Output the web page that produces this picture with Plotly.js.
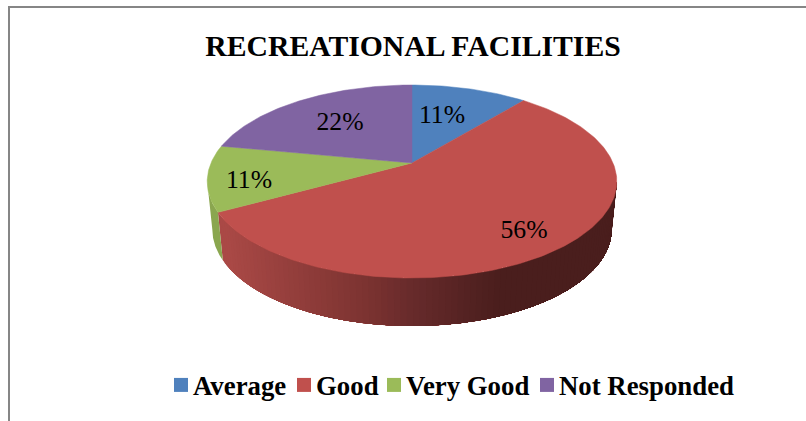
<!DOCTYPE html>
<html><head><meta charset="utf-8">
<script src="https://cdn.plot.ly/plotly-3.0.1.min.js"></script>
<style>html,body{margin:0;padding:0;background:#fff;overflow:hidden}</style>
</head><body><div id="chart" style="width:806px;height:421px"></div>
<script>
const categories = ["Average", "Good", "Very Good", "Not Responded"];
const values = [11, 56, 11, 22];
const sliceColors = ["#4f81bd", "#c0504d", "#9bbb59", "#8064a2"];
const labelX = [442, 524, 249, 340];
const labelY = [116.5, 231.5, 181.5, 123.5];
const legendTextX = [193, 316, 406, 559];

const cx = 412, cy = 163, a = 201, b = 92.95, k = 0.1917, depth = 48, shrink = 0.975;
const total = values.reduce((s, v) => s + v, 0);
const rim = deg => {
  const t = deg * Math.PI / 180, u = Math.sin(t), v = Math.cos(t), d = 1 + k * v;
  return [cx + a * u / d, cy - b * v / d];
};
const mix = (p, q, f) => '#' + [0, 1, 2].map(i => Math.round(p[i] + (q[i] - p[i]) * f).toString(16).padStart(2, '0')).join('');
const wallStops = [[225, [170, 73, 70]], [370, [122, 50, 48]], [420, [100, 41, 42]], [500, [74, 30, 29]], [620, [74, 30, 29]]];
const redWall = x => {
  for (let i = 1; i < wallStops.length; i++) {
    if (x <= wallStops[i][0]) {
      const f = Math.max(0, (x - wallStops[i - 1][0]) / (wallStops[i][0] - wallStops[i - 1][0]));
      return mix(wallStops[i - 1][1], wallStops[i][1], f);
    }
  }
  return '#4a1e1d';
};
const traces = [];
const bounds = [];
let acc = 0;
values.forEach(v => { bounds.push([acc / total * 360, (acc + v) / total * 360]); acc += v; });
const redEnd = bounds[1][1];
const wallStart = Math.acos(-k) * 180 / Math.PI, wallEnd = 360 - wallStart;
const low = p => [cx + (p[0] - cx) * shrink, p[1] + depth];
const wallQuad = (from, to, col) => {
  const pts = [];
  for (let d = from; d < to; d += 0.5) pts.push(rim(d));
  pts.push(rim(to));
  const bot = pts.map(low).reverse();
  const all = pts.concat(bot, [pts[0]]);
  traces.push({x: all.map(p => p[0]), y: all.map(p => p[1]), type: 'scatter', mode: 'lines', fill: 'toself',
    fillcolor: col, line: {width: 0, color: col}, hoverinfo: 'skip', showlegend: false});
};
// red wall: painted longest band first, so each colour sits over the previous one with no seam
const step = 1.5;
for (let s = redEnd; s > wallStart; s -= step) {
  const e = Math.max(s - step, wallStart);
  const m = rim((s + e) / 2);
  wallQuad(wallStart, s, redWall(m[0]));
}
wallQuad(redEnd, wallEnd, '#8aa64f');
// top faces
bounds.forEach((bd, i) => {
  const xs = [cx], ys = [cy];
  for (let d = bd[0]; d < bd[1]; d += 1) { const p = rim(d); xs.push(p[0]); ys.push(p[1]); }
  const p = rim(bd[1]); xs.push(p[0], cx); ys.push(p[1], cy);
  traces.push({x: xs, y: ys, type: 'scatter', mode: 'lines', fill: 'toself', fillcolor: sliceColors[i],
    line: {color: sliceColors[i], width: 0.5}, name: categories[i], hoverinfo: 'name', showlegend: false});
});
traces.push({x: labelX, y: labelY, type: 'scatter', mode: 'text', text: values.map(v => v + '%'), textposition: 'middle center',
  textfont: {family: 'Liberation Serif', size: 25.7, color: '#000'}, hoverinfo: 'skip', showlegend: false});
const layout = {
  width: 806, height: 421, margin: {l: 0, r: 0, t: 0, b: 0}, paper_bgcolor: '#fff', plot_bgcolor: '#fff',
  title: {text: 'RECREATIONAL FACILITIES', font: {family: 'Liberation Serif', size: 29.7, color: '#000', weight: 'bold'}, x: 413/806, xanchor: 'center', y: 1 - 46/421, yanchor: 'middle'},
  xaxis: {range: [0, 806], visible: false, fixedrange: true},
  yaxis: {range: [421, 0], visible: false, fixedrange: true},
  shapes: [{type: 'rect', xref: 'x', yref: 'y', x0: 9, y0: 7, x1: 830, y1: 440, line: {color: '#868686', width: 2}, layer: 'below'}],
  showlegend: true
};
categories.forEach((c, i) => {
  const id = i ? 'legend' + (i + 1) : 'legend';
  traces.push({x: [null], y: [null], type: 'scatter', mode: 'markers', name: c, legend: id,
    marker: {symbol: 'square', size: 14, color: sliceColors[i]}});
  layout[id] = {x: (legendTextX[i] - 25) / 806, xanchor: 'left', y: 1 - 385 / 421, yanchor: 'middle', indentation: -15,
    bgcolor: 'rgba(0,0,0,0)', font: {family: 'Liberation Serif', size: 26.8, color: '#000', weight: 'bold'}};
});
Plotly.newPlot('chart', traces, layout, {displayModeBar: false, staticPlot: true}).then(gd => {
  // the reference keeps each swatch closer to its label than Plotly's fixed legend gap
  gd.querySelectorAll('.legendsymbols').forEach(g => {
    const cur = g.getAttribute('transform') || '';
    g.setAttribute('transform', cur + ' translate(8,0)');
  });
});
</script></body></html>
